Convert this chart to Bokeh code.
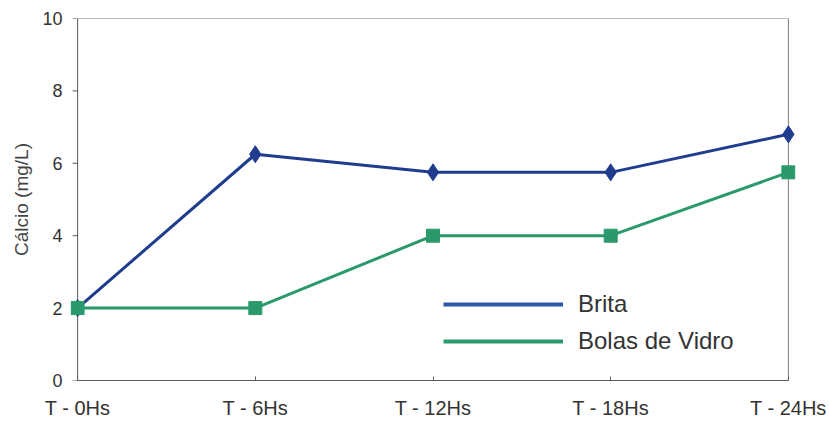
import math
from bokeh.plotting import figure
from bokeh.models import Range1d, FixedTicker, Legend, LegendItem
from bokeh.embed import file_html
from bokeh.resources import INLINE

categories = ["T - 0Hs", "T - 6Hs", "T - 12Hs", "T - 18Hs", "T - 24Hs"]
brita = [2.0, 6.25, 5.75, 5.75, 6.8]
bolas = [2.0, 2.0, 4.0, 4.0, 5.75]
y_ticks = [0, 2, 4, 6, 8, 10]

x = list(range(len(categories)))
xmax = len(categories) - 1
ymax = y_ticks[-1]
pad = 0.04

p = figure(width=829, height=424, output_backend="svg", toolbar_location=None,
           x_range=Range1d(-pad, xmax + pad), y_range=Range1d(0, ymax),
           min_border_left=70, min_border_right=34, min_border_top=18, min_border_bottom=44)
p.background_fill_color = "white"
p.border_fill_color = "white"
p.outline_line_color = None
p.grid.visible = False

FONT = "Liberation Sans"
AX = "#5a5a5a"
p.xaxis.ticker = FixedTicker(ticks=x)
p.xaxis.major_label_overrides = {i: c for i, c in zip(x, categories)}
p.xaxis.bounds = (0, xmax)
p.yaxis.ticker = FixedTicker(ticks=y_ticks)
for ax in (p.xaxis, p.yaxis):
    ax.axis_line_color = AX
    ax.major_tick_line_color = AX
    ax.minor_tick_line_color = None
    ax.major_label_text_font = FONT
    ax.major_label_text_color = "#333333"
p.xaxis.major_label_text_font_size = "20px"
p.yaxis.major_label_text_font_size = "18px"
p.xaxis.major_tick_in = 4
p.xaxis.major_tick_out = 0
p.xaxis.major_label_standoff = 16
# y axis: labels only; line and ticks drawn at x = 0 inside the frame
p.yaxis.axis_line_color = None
p.yaxis.major_tick_line_color = None
p.yaxis.major_tick_in = 0
p.yaxis.major_tick_out = 0
p.yaxis.major_label_standoff = 8
p.yaxis.axis_label = "Cálcio (mg/L)"
p.yaxis.axis_label_text_font = FONT
p.yaxis.axis_label_text_font_style = "normal"
p.yaxis.axis_label_text_font_size = "19px"
p.yaxis.axis_label_text_color = "#444444"
p.yaxis.axis_label_standoff = 7

# y axis line, top and right border of the plot area
p.line([0, 0], [0, ymax], line_color=AX, line_width=1)
p.line([0, xmax, xmax], [ymax, ymax, 0], line_color="#7a7a7a", line_width=1)
p.ray(x=[0] * len(y_ticks), y=y_ticks, length=5, length_units="screen",
      angle=math.pi, line_color=AX, line_width=1)

c1 = "#1f3c8f"
c2 = "#2a9a6c"
p.line(x, brita, line_color=c1, line_width=3)
p.scatter(x, brita, marker="diamond", size=17, fill_color=c1, line_color=c1)
p.line(x, bolas, line_color=c2, line_width=3)
p.scatter(x, bolas, marker="square", size=13, fill_color=c2, line_color=c2)

leg_l1 = p.line([0, 0], [0, 0], line_color="#2c58a6", line_width=4, visible=False)
leg_l2 = p.line([0, 0], [0, 0], line_color="#2a9a6c", line_width=4, visible=False)

legend = Legend(items=[LegendItem(label="Brita", renderers=[leg_l1]),
                       LegendItem(label="Bolas de Vidro", renderers=[leg_l2])],
                location=(373, 25), border_line_color=None, background_fill_alpha=0,
                glyph_width=120, glyph_height=24, label_height=24, spacing=9,
                label_standoff=15, padding=0, margin=0,
                label_text_font=FONT, label_text_font_size="24px", label_text_color="#333333")
p.add_layout(legend)

open("out.html", "w").write(file_html(p, INLINE))
